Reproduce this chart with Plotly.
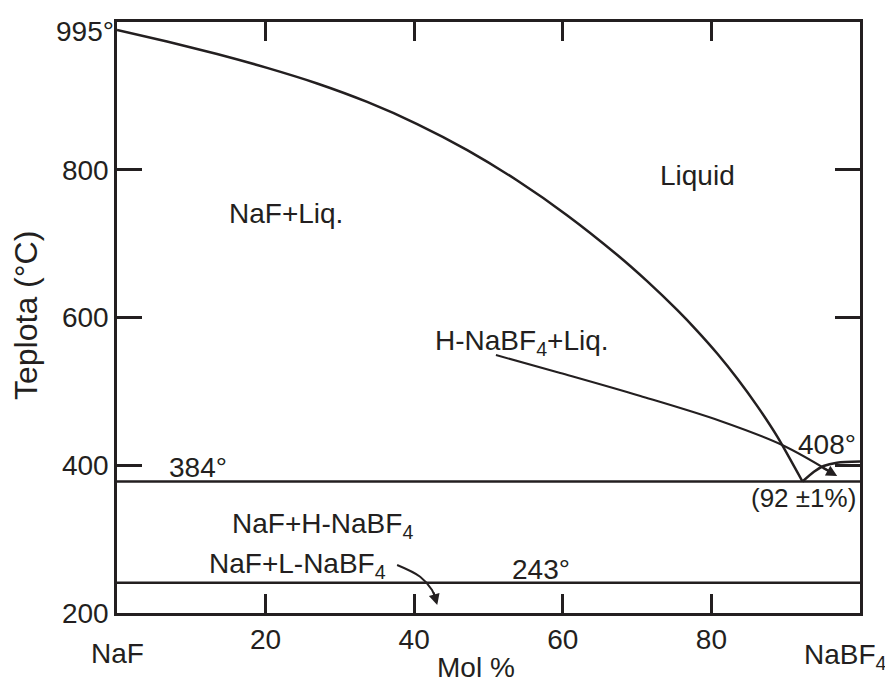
import plotly.graph_objects as go

# ---- data ----
naf_liq_x = [0, 6.73, 13.47, 20.20, 26.94, 33.67, 40.40, 47.14, 53.87, 60.61,
             67.34, 71.38, 75.42, 78.11, 80.81, 83.50, 86.20, 88.89, 92.26]
naf_liq_t = [989.2, 973.6, 956.7, 937.9, 916.8, 891.8, 861.9, 826.6, 785.4, 738.2,
             684.6, 648.9, 609.9, 581.6, 550.9, 517.1, 479.7, 438.4, 378.0]

nabf4_liq_x = [92.26, 93.8, 95.1, 96.9, 100]
nabf4_liq_t = [378, 391.3, 399, 403.5, 405]

eutectic_t = 378
transition_t = 241
x_span = [0, 100]

ptr_h_x = [51.0, 59.66, 70.44, 81.21, 89.52, 96.03]
ptr_h_t = [549.2, 524.9, 493.7, 459.9, 427.4, 390.9]
ptr_h_tip = (96.93, 385.4)

ptr_l_x = [37.7, 40.8, 42.4, 42.9]
ptr_l_t = [265, 249.1, 231.1, 218]
ptr_l_tip = (43.1, 210.8)

y_ticks = [200, 400, 600, 800]
x_ticks = [20, 40, 60, 80]

INK = "#231f20"
FONT = "Liberation Sans, Arial, Helvetica, sans-serif"

W, H = 885, 685
ML, MR, MT, MB = 117, 25, 22, 72
PW, PH = W - ML - MR, H - MT - MB


def px(xp, yp):
    return (xp - ML) / PW, (H - MB - yp) / PH


fig = go.Figure()

line = dict(color=INK, width=2.5)
fig.add_trace(go.Scatter(x=naf_liq_x, y=naf_liq_t, mode="lines",
                         line=dict(color=INK, width=2.5, shape="spline", smoothing=0.6)))
fig.add_trace(go.Scatter(x=nabf4_liq_x, y=nabf4_liq_t, mode="lines",
                         line=dict(color=INK, width=2.5, shape="spline", smoothing=0.8)))
fig.add_trace(go.Scatter(x=x_span, y=[eutectic_t, eutectic_t], mode="lines", line=line))
fig.add_trace(go.Scatter(x=x_span, y=[transition_t, transition_t], mode="lines", line=line))
fig.add_trace(go.Scatter(x=ptr_h_x, y=ptr_h_t, mode="lines",
                         line=dict(color=INK, width=2, shape="spline", smoothing=1.0)))
fig.add_trace(go.Scatter(x=ptr_l_x, y=ptr_l_t, mode="lines",
                         line=dict(color=INK, width=2, shape="spline", smoothing=1.0)))

annotations = []


def txt(text, xp, yp, size=28, xanchor="center", angle=0):
    x, y = px(xp, yp)
    annotations.append(dict(text=text, x=x, y=y, xref="paper", yref="paper",
                            xanchor=xanchor, yanchor="middle", showarrow=False,
                            textangle=angle, font=dict(family=FONT, size=size, color=INK)))


txt("995°", 116, 31, xanchor="right")
txt("Liquid", 697, 176)
txt("NaF+Liq.", 286, 214)
txt("H-NaBF<sub>4</sub>+Liq.", 522, 342)
txt("408°", 827, 444)
txt("(92 ±1%)", 803, 498, size=26)
txt("384°", 198, 467)
txt("NaF+H-NaBF<sub>4</sub>", 322, 525)
txt("NaF+L-NaBF<sub>4</sub>", 297, 565)
txt("243°", 541, 569)
txt("NaF", 117, 653)
txt("NaBF<sub>4</sub>", 845, 656)
txt("Mol %", 476, 667)
txt("Teplota (°C)", 26, 316, size=32, angle=-90)

# arrowheads
annotations.append(dict(x=ptr_h_tip[0], y=ptr_h_tip[1], xref="x", yref="y", ax=-16, ay=-9,
                        text="", showarrow=True, arrowhead=2, arrowsize=1.1, arrowwidth=2,
                        arrowcolor=INK, standoff=0))
annotations.append(dict(x=ptr_l_tip[0], y=ptr_l_tip[1], xref="x", yref="y", ax=-4, ay=-14,
                        text="", showarrow=True, arrowhead=2, arrowsize=1.1, arrowwidth=2,
                        arrowcolor=INK, standoff=0))

axis_common = dict(showgrid=False, zeroline=False, showline=True, linecolor=INK, linewidth=2.5,
                   ticks="inside", tickcolor=INK, tickwidth=2.5, mirror="allticks",
                   tickfont=dict(family=FONT, size=28, color=INK), fixedrange=True)

fig.update_layout(
    width=W, height=H,
    margin=dict(l=ML, r=MR, t=MT, b=MB, pad=0),
    paper_bgcolor="white", plot_bgcolor="white",
    showlegend=False,
    xaxis=dict(range=x_span, tickvals=x_ticks, ticklen=19, **axis_common),
    yaxis=dict(range=[200, 1000], tickvals=y_ticks, ticklen=25, **axis_common),
    annotations=annotations,
)

fig.write_html("out.html")
